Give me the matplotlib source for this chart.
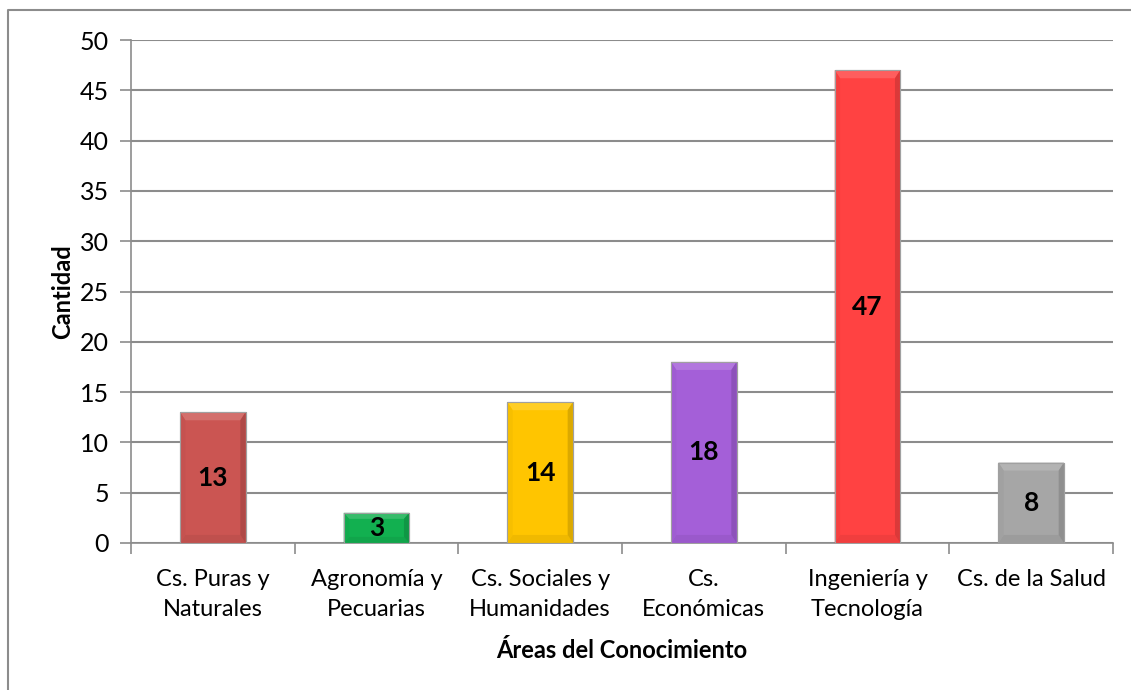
import matplotlib
matplotlib.use("Agg")
import matplotlib.pyplot as plt
from matplotlib.patches import Rectangle, Polygon
from matplotlib.lines import Line2D
import matplotlib.colors as mcolors

categories = ["Cs. Puras y\nNaturales", "Agronomía y\nPecuarias", "Cs. Sociales y\nHumanidades",
              "Cs.\nEconómicas", "Ingeniería y\nTecnología", "Cs. de la Salud"]
values = [13, 3, 14, 18, 47, 8]
colors = ["#CB5552", "#12B050", "#FFC500", "#A45FD8", "#FF4242", "#A6A6A6"]
yticks = [0, 5, 10, 15, 20, 25, 30, 35, 40, 45, 50]

plt.rcParams['font.family'] = ['Lato', 'DejaVu Sans']

W, H = 1131, 690
fig = plt.figure(figsize=(W/100, H/100), dpi=100)
ax = fig.add_axes([131/W, 1-543/H, (1113-131)/W, (543-40)/H])

# outer border (only top and left edges visible in the image)
fig.lines.append(Line2D([8/W, 8/W, 1.0], [0.0, 1-10/H, 1-10/H], transform=fig.transFigure,
                        color="#8C8C8C", linewidth=1.5))

x = list(range(len(values)))
bars = ax.bar(x, values, width=0.40, color=colors, edgecolor="#A0A0A0", linewidth=0.8, zorder=3)

def shade(c, f):
    r, g, b = mcolors.to_rgb(c)
    if f > 0:
        return (r + (1-r)*f, g + (1-g)*f, b + (1-b)*f)
    return (r*(1+f), g*(1+f), b*(1+f))

# subtle bevel effect derived from each bar's own geometry
for bar, c in zip(bars, colors):
    x0, y0 = bar.get_x(), bar.get_y()
    w, h = bar.get_width(), bar.get_height()
    dx = w * 0.08
    dy = min(0.8, h * 0.2)
    top = [(x0, y0+h), (x0+w, y0+h), (x0+w-dx, y0+h-dy), (x0+dx, y0+h-dy)]
    bot = [(x0, y0), (x0+w, y0), (x0+w-dx, y0+dy), (x0+dx, y0+dy)]
    left = [(x0, y0), (x0, y0+h), (x0+dx, y0+h-dy), (x0+dx, y0+dy)]
    right = [(x0+w, y0), (x0+w, y0+h), (x0+w-dx, y0+h-dy), (x0+w-dx, y0+dy)]
    ax.add_patch(Polygon(top, closed=True, color=shade(c, 0.15), lw=0, zorder=4))
    ax.add_patch(Polygon(bot, closed=True, color=shade(c, -0.06), lw=0, zorder=4))
    ax.add_patch(Polygon(left, closed=True, color=shade(c, -0.03), lw=0, zorder=4))
    ax.add_patch(Polygon(right, closed=True, color=shade(c, -0.14), lw=0, zorder=4))
    ax.add_patch(Rectangle((x0, y0), w, h, fill=False, edgecolor="#A0A0A0", lw=0.8, zorder=5))

for xi, v in zip(x, values):
    ax.text(xi, v/2, str(v), ha="center", va="center", fontsize=19, fontweight="bold",
            color="black", zorder=6)

ax.set_xlim(-0.5, len(values)-0.5)
ax.set_ylim(0, 50)
ax.set_yticks(yticks)
ax.set_yticklabels([str(t) for t in yticks], fontsize=18)
ax.yaxis.grid(True, color="#8C8C8C", linewidth=1.5, zorder=0)
ax.set_axisbelow(True)

ax.set_xticks([i - 0.5 for i in range(len(values)+1)], minor=False)
ax.set_xticklabels([])
ax.set_xticks(x, minor=True)
ax.set_xticklabels(categories, minor=True, fontsize=17, linespacing=1.5)
ax.tick_params(axis="x", which="minor", length=0, pad=19)
ax.tick_params(axis="x", which="major", length=8, color="#8C8C8C", width=1.2)
ax.tick_params(axis="y", length=8, color="#8C8C8C", width=1.2, pad=8)

for s in ["top", "right"]:
    ax.spines[s].set_visible(False)
ax.spines["left"].set_color("#8C8C8C")
ax.spines["left"].set_linewidth(1.2)
ax.spines["bottom"].set_color("#8C8C8C")
ax.spines["bottom"].set_linewidth(1.2)

ax.set_ylabel("Cantidad", fontsize=17, fontweight="bold", labelpad=4)
ax.set_xlabel("Áreas del Conocimiento", fontsize=17, fontweight="bold", labelpad=14)

fig.savefig("out.png", dpi=100)
